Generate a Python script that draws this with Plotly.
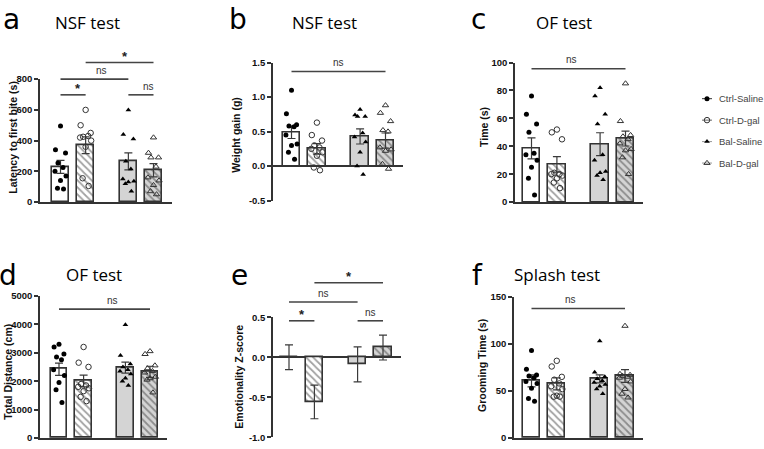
import plotly.graph_objects as go

W, H = 764, 449
GROUPS = ["Ctrl-Saline", "Ctrl-D-gal", "Bal-Saline", "Bal-D-gal"]

# ---------------- data ----------------
# a: NSF latency to first bite (s)
a_mean = [229, 370, 265, 207]
a_sem = [42, 55, 55, 43]
a_pts_cs = [495, 340, 320, 255, 225, 200, 170, 140, 90, 85]
a_pts_cd = [600, 500, 450, 425, 430, 420, 400, 360, 155, 105]
a_pts_bs = [600, 440, 410, 265, 215, 150, 135, 130, 120, 70]
a_pts_bd = [420, 320, 290, 290, 230, 160, 140, 110, 70, 50]
a_ticks = [0, 200, 400, 600, 800]
a_ticktext = ["0", "200", "400", "600", "800"]
a_sig = [(0, 1, 698, "*"), (0, 2, 800, "ns"), (1, 3, 908, "*"), (2, 3, 698, "ns")]

# b: NSF weight gain (g)
b_mean = [0.49, 0.25, 0.43, 0.37]
b_sem = [0.09, 0.075, 0.11, 0.11]
b_pts_cs = [1.1, 0.76, 0.6, 0.58, 0.57, 0.45, 0.32, 0.3, 0.2, 0.1]
b_pts_cd = [0.63, 0.45, 0.37, 0.3, 0.27, 0.25, 0.2, 0.15, -0.02, -0.06]
b_pts_bs = [0.82, 0.74, 0.72, 0.72, 0.48, 0.42, 0.35, 0.2, 0.0, -0.12]
b_pts_bd = [0.88, 0.77, 0.65, 0.52, 0.5, 0.27, 0.24, 0.22, 0.03, -0.04]
b_ticks = [-0.5, 0, 0.5, 1.0, 1.5]
b_ticktext = ["-0.5", "0.0", "0.5", "1.0", "1.5"]
b_sig = [(0, 3, 1.37, "ns")]

# c: OF time (s)
c_mean = [38.5, 27, 41.5, 45.5]
c_sem = [7.5, 5.6, 8.2, 5.3]
c_pts_cs = [76, 63, 56, 50, 35, 34, 30, 25, 17, 5]
c_pts_cd = [52, 50, 45, 21, 20, 20, 19, 17, 14, 10]
c_pts_bs = [82, 76, 63, 56, 34, 30, 22, 21, 19, 16]
c_pts_bd = [85, 58, 48, 47, 45, 42, 38, 37, 32, 20]
c_ticks = [0, 20, 40, 60, 80, 100]
c_ticktext = ["0", "20", "40", "60", "80", "100"]
c_sig = [(0, 3, 95.6, "ns")]

# d: OF total distance (cm)
d_mean = [2421, 2010, 2476, 2329]
d_sem = [216, 205, 195, 195]
d_pts_cs = [3300, 3200, 2950, 2850, 2750, 2400, 2200, 1950, 1700, 1250]
d_pts_cd = [3200, 2650, 2500, 1900, 1850, 1800, 1750, 1650, 1450, 1300]
d_pts_bs = [3980, 2900, 2600, 2500, 2400, 2350, 2250, 2100, 2000, 1850]
d_pts_bd = [3050, 2950, 2550, 2450, 2350, 2300, 2150, 2100, 2050, 1600]
d_ticks = [0, 1000, 2000, 3000, 4000, 5000]
d_ticktext = ["0", "1000", "2000", "3000", "4000", "5000"]
d_sig = [(0, 3, 4530, "ns")]

# e: Emotionality Z-score
e_mean = [0.0, -0.56, -0.09, 0.12]
e_sem = [0.155, 0.21, 0.22, 0.155]
e_ticks = [-1.0, -0.5, 0, 0.5]
e_ticktext = ["-1.0", "-0.5", "0.0", "0.5"]
e_sig = [(0, 1, 0.455, "*"), (0, 2, 0.69, "ns"), (1, 3, 0.93, "*"), (2, 3, 0.455, "ns")]

# f: Splash grooming time (s)
f_mean = [60.7, 57.6, 62.8, 65.9]
f_sem = [6.3, 6.4, 4.2, 6.8]
f_pts_cs = [93, 73, 67, 66, 64, 60, 58, 53, 42, 39]
f_pts_cd = [82, 76, 65, 62, 58, 55, 52, 45, 44, 44]
f_pts_bs = [103, 70, 65, 63, 61, 59, 57, 55, 52, 47]
f_pts_bd = [119, 68, 67, 66, 65, 64, 60, 52, 47, 43]
f_ticks = [0, 50, 100, 150]
f_ticktext = ["0", "50", "100", "150"]
f_sig = [(0, 3, 137.5, "ns")]

# ---------------- style / layout ----------------
POS = [0, 1, 2.7, 3.7]
BAR_W = 0.68
JIT = [0.0, -0.2, 0.2, -0.1, 0.1, -0.22, 0.22, 0.0, -0.12, 0.12]
FILLS = ["white", "white", "#d4d4d4", "#d4d4d4"]
PATTERNS = ["", "\\", "", "\\"]
MARKERS = [
    dict(symbol="circle", size=5, color="black"),
    dict(symbol="circle-open", size=5.5, color="#333", line=dict(width=1)),
    dict(symbol="triangle-up", size=5, color="black"),
    dict(symbol="triangle-up-open", size=5.5, color="#333", line=dict(width=1)),
]
DARK = "#333333"
TICKFONT = dict(family="Arial, Liberation Sans", size=9.5, color="#111", weight="bold")
LETTERFONT = dict(family="DejaVu Sans", size=28, color="black")

panels = [
    dict(mean=a_mean, sem=a_sem, pts=[a_pts_cs, a_pts_cd, a_pts_bs, a_pts_bd], ticks=a_ticks, ticktext=a_ticktext,
         sig=a_sig, ymin=0, ymax=800, zero_mid=False, x0=40, c1=60.5, c4=153.5, x1=172,
         vA=0, pA=201, vB=800, pB=75, letter="a", lx=11, title="NSF test", tx=87.5,
         ytitle="Latency to first bite (s)", ytx=13, yty=135, row=0),
    dict(mean=b_mean, sem=b_sem, pts=[b_pts_cs, b_pts_cd, b_pts_bs, b_pts_bd], ticks=b_ticks, ticktext=b_ticktext,
         sig=b_sig, ymin=-0.5, ymax=1.5, zero_mid=True, x0=273, c1=291.5, c4=385.5, x1=403,
         vA=-0.5, pA=199.5, vB=1.5, pB=58, letter="b", lx=238, title="NSF test", tx=324,
         ytitle="Weight gain (g)", ytx=236, yty=132, row=0),
    dict(mean=c_mean, sem=c_sem, pts=[c_pts_cs, c_pts_cd, c_pts_bs, c_pts_bd], ticks=c_ticks, ticktext=c_ticktext,
         sig=c_sig, ymin=0, ymax=100, zero_mid=False, x0=515, c1=531.5, c4=625.5, x1=643,
         vA=0, pA=201, vB=100, pB=58, letter="c", lx=478, title="OF test", tx=564,
         ytitle="Time (s)", ytx=484, yty=124, row=0),
    dict(mean=d_mean, sem=d_sem, pts=[d_pts_cs, d_pts_cd, d_pts_bs, d_pts_bd], ticks=d_ticks, ticktext=d_ticktext,
         sig=d_sig, ymin=0, ymax=5000, zero_mid=False, x0=40, c1=59, c4=150, x1=167,
         vA=0, pA=443, vB=5000, pB=297, letter="d", lx=8, title="OF test", tx=94,
         ytitle="Total Distance (cm)", ytx=8, yty=375, row=1),
    dict(mean=e_mean, sem=e_sem, pts=None, ticks=e_ticks, ticktext=e_ticktext,
         sig=e_sig, ymin=-1.0, ymax=0.5, zero_mid=True, x0=273, c1=289, c4=383, x1=401,
         vA=-1.0, pA=442, vB=0.5, pB=319, letter="e", lx=239, title=None, tx=0,
         ytitle="Emotionality Z-score", ytx=239, yty=380, row=1),
    dict(mean=f_mean, sem=f_sem, pts=[f_pts_cs, f_pts_cd, f_pts_bs, f_pts_bd], ticks=f_ticks, ticktext=f_ticktext,
         sig=f_sig, ymin=0, ymax=150, zero_mid=False, x0=514, c1=531.5, c4=625, x1=643,
         vA=0, pA=443, vB=150, pB=298, letter="f", lx=477, title="Splash test", tx=557,
         ytitle="Grooming Time (s)", ytx=482, yty=369, row=1),
]

fig = go.Figure()
layout = {}
shapes = []
annots = []

for k, P in enumerate(panels, start=1):
    xn = "x" if k == 1 else f"x{k}"
    yn = "y" if k == 1 else f"y{k}"
    xkey = "xaxis" if k == 1 else f"xaxis{k}"
    ykey = "yaxis" if k == 1 else f"yaxis{k}"

    u = (P["c4"] - P["c1"]) / (POS[-1] - POS[0])
    xr = [POS[0] - (P["c1"] - P["x0"]) / u, POS[-1] + (P["x1"] - P["c4"]) / u]
    s = (P["pA"] - P["pB"]) / (P["vB"] - P["vA"])

    def ypx(v, P=P, s=s):
        return P["pA"] - (v - P["vA"]) * s

    def xpx(xv, P=P, xr=xr, u=u):
        return P["x0"] + (xv - xr[0]) * u

    ydom = [1 - ypx(P["ymin"]) / H, 1 - ypx(P["ymax"]) / H]
    xdom = [P["x0"] / W, P["x1"] / W]

    fig.add_trace(go.Bar(
        x=POS, y=P["mean"], width=BAR_W, xaxis=xn, yaxis=yn, showlegend=False,
        marker=dict(color=FILLS, line=dict(color=DARK, width=1.6),
                    pattern=dict(shape=PATTERNS, fgcolor="#8a8a8a", size=5, solidity=0.35, fillmode="overlay")),
        error_y=dict(type="data", array=P["sem"], symmetric=True, thickness=1.2, width=4, color="#3a3a3a"),
    ))
    if P["pts"] is not None:
        for g in range(4):
            vals = P["pts"][g]
            fig.add_trace(go.Scatter(
                x=[POS[g] + JIT[i % len(JIT)] for i in range(len(vals))], y=vals,
                mode="markers", marker=MARKERS[g], xaxis=xn, yaxis=yn,
                showlegend=False, cliponaxis=False, name=GROUPS[g]))

    layout[xkey] = dict(domain=xdom, range=xr, anchor=yn, showline=not P["zero_mid"], linecolor=DARK,
                        linewidth=1.6, showticklabels=False, ticks="", showgrid=False, zeroline=False)
    layout[ykey] = dict(domain=ydom, range=[P["ymin"], P["ymax"]], anchor=xn, showline=True, linecolor=DARK,
                        linewidth=1.6, ticks="outside", ticklen=4, tickwidth=1.5, tickcolor=DARK,
                        tickvals=P["ticks"], ticktext=P["ticktext"], tickfont=TICKFONT, showgrid=False,
                        zeroline=P["zero_mid"], zerolinecolor=DARK, zerolinewidth=1.6)

    # significance brackets
    for (i, j, v, lab) in P["sig"]:
        yy = 1 - ypx(v) / H
        shapes.append(dict(type="line", xref="paper", yref="paper",
                           x0=xpx(POS[i]) / W, x1=xpx(POS[j]) / W, y0=yy, y1=yy,
                           line=dict(color="#444", width=1.6)))
        if lab == "*":
            annots.append(dict(text="*", x=(xpx(POS[i]) + xpx(POS[j])) / 2 / W, y=1 - (ypx(v) - 6) / H,
                               xref="paper", yref="paper", showarrow=False, yanchor="middle",
                               font=dict(family="Liberation Sans", size=13, color="#222", weight="bold")))
        else:
            annots.append(dict(text=lab, x=(xpx(POS[i]) + xpx(POS[j])) / 2 / W, y=1 - (ypx(v) - 9) / H,
                               xref="paper", yref="paper", showarrow=False, yanchor="middle",
                               font=dict(family="Liberation Sans", size=10, color="#333")))

    # panel letter
    if P["row"] == 0:
        annots.append(dict(text=P["letter"], x=P["lx"] / W, y=1.0, xref="paper", yref="paper", yshift=5,
                           showarrow=False, xanchor="center", yanchor="top", font=LETTERFONT))
    else:
        annots.append(dict(text=P["letter"], x=P["lx"] / W, y=1 - 276 / H, xref="paper", yref="paper",
                           showarrow=False, xanchor="center", yanchor="middle", font=LETTERFONT))
    if P["title"]:
        ty = 17 if P["row"] == 0 else 275
        annots.append(dict(text=P["title"], x=P["tx"] / W, y=1 - ty / H, xref="paper", yref="paper",
                           showarrow=False, xanchor="center", yanchor="middle",
                           font=dict(family="Open Sans", size=17, color="black")))
    annots.append(dict(text=P["ytitle"], x=P["ytx"] / W, y=1 - P["yty"] / H, xref="paper", yref="paper",
                       showarrow=False, textangle=-90, xanchor="center", yanchor="middle",
                       font=dict(family="Arial, Liberation Sans", size=10.5, color="#111", weight="bold")))

# ---------------- legend (drawn manually) ----------------
LEG_LINE = ["#333", "#666", "#999", "#999"]
for g in range(4):
    fig.add_trace(go.Scatter(x=[0, 1], y=[g + 1, g + 1], mode="lines", line=dict(color=LEG_LINE[g], width=1),
                             xaxis="x7", yaxis="y7", showlegend=False, hoverinfo="skip"))
    fig.add_trace(go.Scatter(x=[0.5], y=[g + 1], mode="markers", marker=MARKERS[g],
                             xaxis="x7", yaxis="y7", showlegend=False, cliponaxis=False, name=GROUPS[g]))
    annots.append(dict(text=GROUPS[g], x=717 / W, y=1 - (95 + 22 * g) / H, xref="paper", yref="paper",
                       showarrow=False, xanchor="left", yanchor="middle",
                       font=dict(family="Liberation Sans", size=9.5, color="#444")))
layout["xaxis7"] = dict(domain=[702 / W, 712 / W], range=[0, 1], visible=False, anchor="y7")
layout["yaxis7"] = dict(domain=[1 - 172 / H, 1 - 84 / H], range=[4.5, 0.5], visible=False, anchor="x7")

fig.update_layout(
    width=W, height=H, margin=dict(l=0, r=0, t=0, b=0),
    paper_bgcolor="white", plot_bgcolor="white", bargap=0,
    shapes=shapes, annotations=annots, **layout,
)

fig.write_html("out.html")
